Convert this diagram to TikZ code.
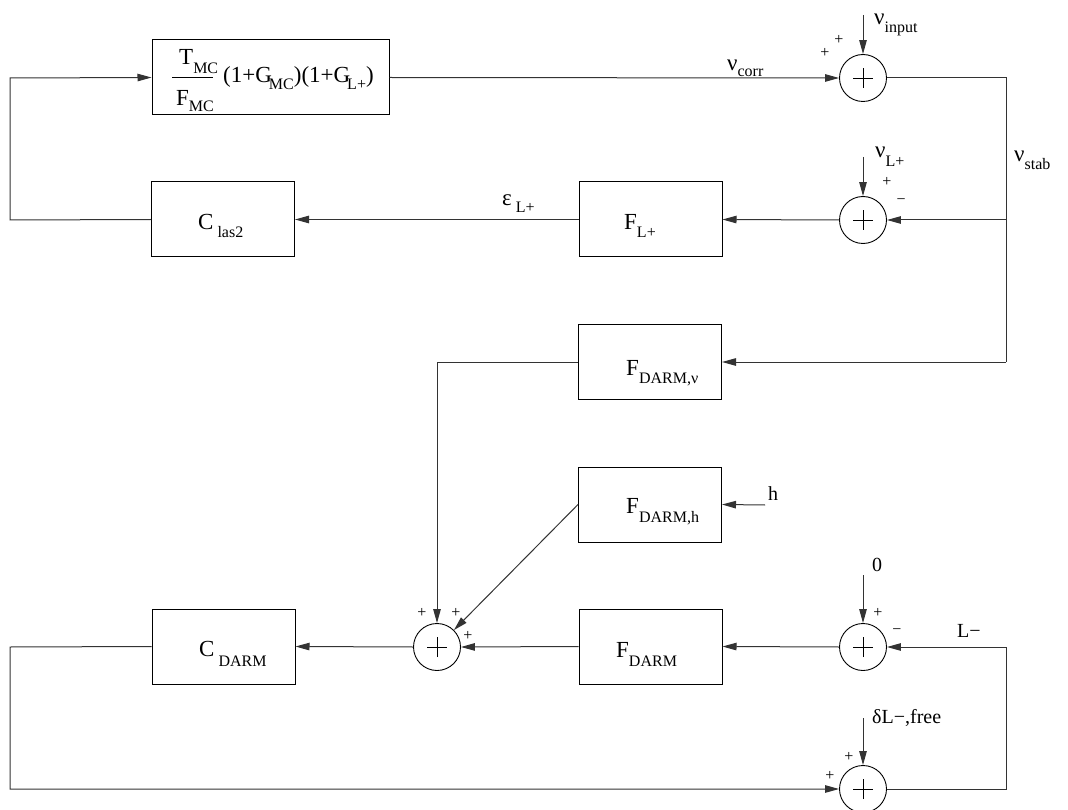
\documentclass[tikz,border=0pt]{standalone}
\usepackage{fontspec}
\setmainfont{Liberation Serif}
\usetikzlibrary{arrows.meta}
\newcommand{\lsub}[2][-7pt]{\raisebox{#1}{\fontsize{16}{16}\selectfont #2}}
\begin{document}
\begin{tikzpicture}[x=1pt,y=-1pt,
  blk/.style={draw, line width=1pt, minimum width=143pt, minimum height=75pt, inner sep=0pt},
  sumc/.style={draw, circle, line width=0.9pt, minimum size=47pt, inner sep=0pt},
  lbl/.style={inner sep=0pt, anchor=base west, font=\fontsize{23}{25}\selectfont},
  sml/.style={inner sep=0pt, anchor=base west, font=\fontsize{20}{22}\selectfont},
  sgn/.style={inner sep=0pt, font=\fontsize{16}{16}\selectfont},
  conn/.style={line width=1pt, draw=black!80},
  arr/.style={conn, -{Triangle[length=14pt,width=7.5pt]}},
]
\useasboundingbox (0,0) rectangle (1068,810);

% blocks
\node[blk, minimum width=237pt] (topbox) at (270.5,77.5) {};
\node[blk] (cl)  at (223,219.5) {};
\node[blk] (fl)  at (650.5,219.5) {};
\node[blk] (fdn) at (650,362) {};
\node[blk] (fdh) at (650,504.5) {};
\node[blk] (fd)  at (650.5,646.5) {};
\node[blk] (cd)  at (223.5,646.5) {};

% summing junctions
\node[sumc] (s1) at (863,78) {};
\node[sumc] (s2) at (863,220) {};
\node[sumc] (s3) at (863,647) {};
\node[sumc] (s4) at (863,789) {};
\node[sumc] (s5) at (437,647) {};
\foreach \n in {s1,s2,s3,s4,s5}
  \draw[line width=0.8pt] ([xshift=-10pt]\n.center) -- ([xshift=10pt]\n.center)
                          ([yshift=-10pt]\n.center) -- ([yshift=10pt]\n.center);

% free ends
\coordinate (rtop) at (1006,78);
\coordinate (rmid) at (1006,220);
\coordinate (rdn)  at (1006,362);
\coordinate (lft)  at (10,220);
\coordinate (lftt) at (10,78);
\coordinate (vin)  at (863,15);
\coordinate (vlp)  at (863,157);
\coordinate (zin)  at (863,575);
\coordinate (din)  at (863,718);
\coordinate (hin)  at (765,505);
\coordinate (knee) at (437,362);
\coordinate (lb1)  at (10,647);
\coordinate (lb2)  at (10,789);
\coordinate (rb1)  at (1006,789);
\coordinate (rb2)  at (1006,647);

% connectors
\draw[arr] (topbox.east) -- (s1.west);
\draw[arr] (vin) -- (s1.north);
\draw[conn] (s1.east) -- (rtop) -- (rdn);
\draw[arr] (rmid) -- (s2.east);
\draw[arr] (vlp) -- (s2.north);
\draw[arr] (s2.west) -- (fl.east);
\draw[arr] (fl.west) -- (cl.east);
\draw[arr] (cl.west) -- (lft) -- (lftt) -- (topbox.west);
\draw[arr] (rdn) -- (fdn.east);
\draw[arr] (fdn.west) -- (knee) -- (s5.north);
\draw[arr] (hin) -- (fdh.east);
\draw[arr] (fdh.west) -- (s5.north east);
\draw[arr] (zin) -- (s3.north);
\draw[arr] (rb2) -- (s3.east);
\draw[arr] (s3.west) -- (fd.east);
\draw[arr] (fd.west) -- (s5.east);
\draw[arr] (s5.west) -- (cd.east);
\draw[arr] (cd.west) -- (lb1) -- (lb2) -- (s4.west);
\draw[arr] (din) -- (s4.north);
\draw[conn] (s4.east) -- (rb1) -- (rb2);

% top box contents
\node[lbl] (tnum) at (179,65) {T\lsub[-9pt]{MC}};
\node[lbl] (tden) at (176,106) {F\lsub[-6pt]{MC}};
\draw[line width=1pt] (172,77.5) -- (213,77.5);
\node[lbl] (tprod) at (223,83) {(1+G\kern-3pt\lsub{MC})(1+G\kern-3pt\lsub{L+})};

% block labels
\node[lbl] (tcl)  at (198,230) {C\hspace{4pt}\lsub[-8pt]{las2}};
\node[lbl] (tfl)  at (624,230) {F\lsub[-8pt]{L+}};
\node[lbl] (tfdn) at (626,375) {F\lsub[-8pt]{DARM,ν}};
\node[lbl] (tfdh) at (626,513) {F\lsub[-9pt]{DARM,h}};
\node[lbl] (tfd)  at (616,657) {F\lsub[-9pt]{DARM}};
\node[lbl] (tcd)  at (199,656) {C\hspace{4pt}\lsub[-10pt]{DARM}};

% signal labels
\node[lbl] (lin)   at (874,25)  {ν\lsub[-8pt]{input}};
\node[lbl] (lcorr) at (727,71)  {ν\lsub[-6pt]{corr}};
\node[lbl] (llp)   at (875,158) {ν\lsub[-9pt]{L+}};
\node[lbl] (lstab) at (1014,162) {ν\lsub[-8pt]{stab}};
\node[lbl] (leps)  at (502,206) {ε\hspace{4pt}\lsub[-7pt]{L+}};
\node[sml] (lh)    at (768,500) {h};
\node[sml] (lzero) at (872,571) {0};
\node[sml] (llm)   at (957,637) {L−};
\node[sml] (ldl)   at (872,723) {δL−,free};

% signs
\node[sgn] (p1a) at (825,53) {+};
\node[sgn] (p1b) at (839,40) {+};
\node[sgn] (p2a) at (887,182) {+};
\node[sgn] (m2)  at (901,202) {−};
\node[sgn] (p3a) at (878,613) {+};
\node[sgn] (m3)  at (897,632) {−};
\node[sgn] (p4a) at (849,757) {+};
\node[sgn] (p4b) at (830,776) {+};
\node[sgn] (p5a) at (422,613) {+};
\node[sgn] (p5b) at (456,613) {+};
\node[sgn] (p5c) at (468,636) {+};
\end{tikzpicture}
\end{document}
